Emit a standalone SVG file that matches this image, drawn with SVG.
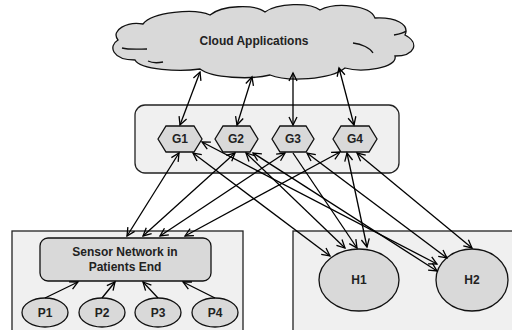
<svg xmlns="http://www.w3.org/2000/svg" width="512" height="330" viewBox="0 0 512 330">
<style>
.lbl{font-family:"Liberation Sans",Arial,sans-serif;font-weight:bold;font-size:12px;fill:#222;text-anchor:middle;dominant-baseline:central}
.box{fill:#f0f0f0;stroke:#222;stroke-width:1.3}
.node{fill:#d9d9d9;stroke:#111;stroke-width:1.3}
.ln{stroke:#000;stroke-width:1.3;fill:none}
.bi{marker-start:url(#ah);marker-end:url(#ah)}
.uni{marker-end:url(#ah)}
.inner{fill:none;stroke:#111;stroke-width:1.3}
</style>
<defs>
<marker id="ah" markerUnits="userSpaceOnUse" markerWidth="12" markerHeight="12" viewBox="0 0 12 12" refX="10" refY="6" orient="auto-start-reverse">
<path d="M2,2 L10,6 L2,10" fill="none" stroke="#000" stroke-width="1.3"/>
</marker>
</defs>
<rect width="512" height="330" fill="#fff"/>

<g id="patients-area"><rect class="box" x="12" y="231" width="231" height="110"/></g>
<g id="hospital-area"><rect class="box" x="293" y="231" width="230" height="110"/></g>
<g id="gateway-area"><rect class="box" x="135" y="105" width="264" height="68" rx="10"/></g>

<g id="cloud">
<path class="node" d="M118,40 C110,30 128,21 143,24 C152,12 195,8 210,15 C222,5 255,4 265,12 C277,3 310,2 320,10 C336,2 370,5 375,18 C395,17 410,24 405,35 C420,43 415,56 395,56 C398,68 362,73 345,68 C330,80 287,82 270,75 C250,80 212,78 200,69 C180,72 140,70 135,60 C112,60 108,46 118,40 Z"/>
<path class="inner" d="M122,48 C130,50 140,49 147,49"/>
<path class="inner" d="M353,43 C362,44 370,48 373,53"/>
<path class="inner" d="M394,35 C400,34 404,33 406,31"/>
<path class="inner" d="M148,61 C152,63 158,63 163,62"/>
<text class="lbl" x="254" y="41">Cloud Applications</text>
</g>

<g id="G1"><polygon class="node" points="158,139 166,126 194,126 202,139 194,152 166,152"/><text class="lbl" x="180" y="139">G1</text></g>
<g id="G2"><polygon class="node" points="215,139 223,126 250,126 258,139 250,152 223,152"/><text class="lbl" x="236" y="139">G2</text></g>
<g id="G3"><polygon class="node" points="272,139 280,126 306,126 314,139 306,152 280,152"/><text class="lbl" x="293" y="139">G3</text></g>
<g id="G4"><polygon class="node" points="333,139 341,126 369,126 377,139 369,152 341,152"/><text class="lbl" x="355" y="139">G4</text></g>

<g id="sensor"><rect class="node" x="40" y="238" width="171" height="43" rx="8"/>
<text class="lbl" x="125" y="252">Sensor Network in</text>
<text class="lbl" x="125" y="267">Patients End</text></g>

<g id="P1"><ellipse class="node" cx="45" cy="312.5" rx="23" ry="14.5"/><text class="lbl" x="45" y="312.5">P1</text></g>
<g id="P2"><ellipse class="node" cx="102" cy="312.5" rx="23" ry="14.5"/><text class="lbl" x="102" y="312.5">P2</text></g>
<g id="P3"><ellipse class="node" cx="158" cy="312.5" rx="23" ry="14.5"/><text class="lbl" x="158" y="312.5">P3</text></g>
<g id="P4"><ellipse class="node" cx="215" cy="312.5" rx="23" ry="14.5"/><text class="lbl" x="215" y="312.5">P4</text></g>

<g id="H1"><ellipse class="node" cx="359" cy="280" rx="40" ry="31"/><text class="lbl" x="359" y="280">H1</text></g>
<g id="H2"><ellipse class="node" cx="472" cy="280" rx="36" ry="31"/><text class="lbl" x="472" y="280">H2</text></g>

<g id="connectors">
<line class="ln bi" x1="200" y1="72" x2="180" y2="125"/>
<line class="ln bi" x1="252" y1="77" x2="237" y2="125"/>
<line class="ln bi" x1="293" y1="73" x2="293" y2="125"/>
<line class="ln bi" x1="339" y1="68" x2="354" y2="125"/>

<line class="ln bi" x1="179" y1="153" x2="127" y2="236"/>
<line class="ln bi" x1="235" y1="153" x2="143" y2="236"/>
<line class="ln bi" x1="285" y1="153" x2="160" y2="236"/>
<line class="ln bi" x1="340" y1="152" x2="185" y2="236"/>

<line class="ln bi" x1="193" y1="153" x2="330" y2="256"/>
<line class="ln bi" x1="202" y1="142" x2="437" y2="264"/>
<line class="ln bi" x1="246" y1="153" x2="345" y2="248"/>
<line class="ln bi" x1="253" y1="153" x2="437" y2="271"/>
<line class="ln uni" x1="293" y1="153" x2="357" y2="248"/>
<line class="ln bi" x1="307" y1="153" x2="447" y2="258"/>
<line class="ln bi" x1="347" y1="153" x2="367" y2="247"/>
<line class="ln bi" x1="357" y1="153" x2="472" y2="248"/>

<line class="ln uni" x1="45" y1="298" x2="78" y2="282"/>
<line class="ln uni" x1="102" y1="298" x2="115" y2="282"/>
<line class="ln uni" x1="158" y1="298" x2="143" y2="282"/>
<line class="ln uni" x1="215" y1="298" x2="183" y2="282"/>
</g>
</svg>
